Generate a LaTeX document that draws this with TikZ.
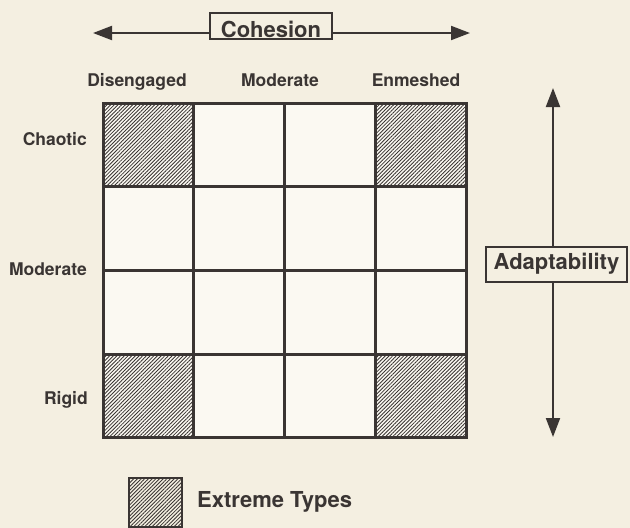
\documentclass[tikz,border=0pt]{standalone}
\usepackage{fontspec}
\setmainfont{TeX Gyre Heros}
\usetikzlibrary{arrows.meta,patterns.meta}
\definecolor{paper}{HTML}{F4EFE1}
\definecolor{cellbg}{HTML}{FBF9F2}
\definecolor{ink}{HTML}{3A3533}
\begin{document}
\begin{tikzpicture}[x=1pt,y=-1pt,
  gridline/.style={draw=ink,line width=3pt},
  hatch/.style={pattern={Lines[angle=45,distance=2.6pt,line width=0.85pt]},pattern color=ink},
  lbl/.style={font=\bfseries\fontsize{17.5}{20}\selectfont,text=ink,inner sep=0pt},
  titlebox/.style={draw=ink,line width=1.3pt,fill=paper,font=\bfseries\fontsize{22}{24}\selectfont,text=ink,inner ysep=0pt,inner xsep=0pt},
  axis/.style={draw=ink,line width=2pt,-{Triangle[length=19pt,width=14pt]}}]
\fill[paper] (0,0) rectangle (630,528);
\useasboundingbox (0,0) rectangle (630,528);
% grid
\fill[cellbg] (103,103) rectangle (466,437);
\fill[hatch] (103,103) rectangle (193,186);
\fill[hatch] (375,103) rectangle (466,186);
\fill[hatch] (103,354) rectangle (193,437);
\fill[hatch] (375,354) rectangle (466,437);
\foreach \x in {103,193,284,375,466} \draw[gridline] (\x,103) -- (\x,437);
\foreach \y in {103,186,270,354,437} \draw[gridline] (103,\y) -- (466,\y);
\draw[gridline,line cap=rect] (103,103) rectangle (466,437);
% column labels
\node[lbl,anchor=base] (cdis) at (137,86) {Disengaged};
\node[lbl,anchor=base] (cmod) at (280,86) {Moderate};
\node[lbl,anchor=base] (cenm) at (416,86) {Enmeshed};
% row labels
\node[lbl,anchor=base east] (rcha) at (87,145) {Chaotic};
\node[lbl,anchor=base east] (rmod) at (87,275) {Moderate};
\node[lbl,anchor=base east] (rrig) at (88,404) {Rigid};
% cohesion axis
\node[titlebox,text height=24pt,text depth=2pt,minimum width=122pt] (coh) at (271,26) {Cohesion};
\coordinate (cL) at (93,33);
\coordinate (cR) at (470,33);
\draw[axis] (coh.west |- cL) -- (cL);
\draw[axis] (coh.east |- cR) -- (cR);
% adaptability axis
\node[titlebox,text height=22pt,text depth=13pt,minimum width=141pt] (ada) at (556.5,264.5) {Adaptability};
\coordinate (aT) at (553,88);
\coordinate (aB) at (553,437);
\draw[axis] (ada.north -| aT) -- (aT);
\draw[axis] (ada.south -| aB) -- (aB);
% legend
\node[draw=ink,line width=2pt,hatch,minimum width=53pt,minimum height=49pt,inner sep=0pt] (leg) at (155,502) {};
\node[lbl,font=\bfseries\fontsize{22}{24}\selectfont,anchor=west] (legt) at (197,502) {Extreme Types};
\end{tikzpicture}
\end{document}
